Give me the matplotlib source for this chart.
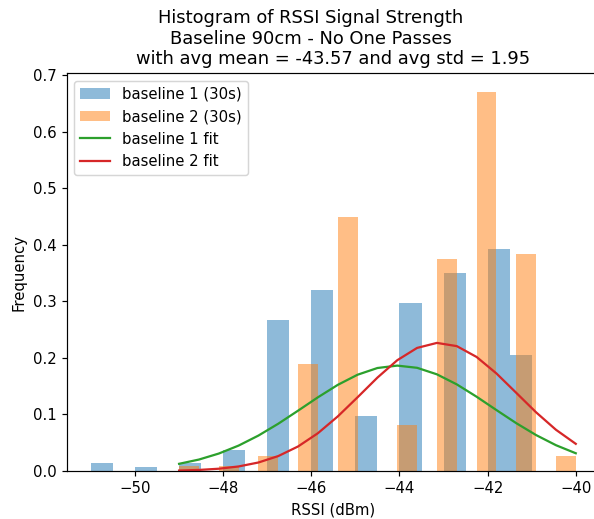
import numpy as np
import matplotlib
matplotlib.use("Agg")
import matplotlib.pyplot as plt

# RSSI values (dBm) and density heights
rssi1 = [-51, -50, -49, -48, -47, -46, -45, -44, -43, -42, -41]
dens1 = [0.0136, 0.0065, 0.0136, 0.0366, 0.267, 0.320, 0.0973, 0.297, 0.351, 0.392, 0.206]

rssi2 = [-49, -48, -47, -46, -45, -44, -43, -42, -41, -40]
dens2 = [0.009, 0.009, 0.0265, 0.189, 0.450, 0.082, 0.375, 0.670, 0.383, 0.0265]

# Normal fit parameters
mean1, std1 = -44.04, 2.14
mean2, std2 = -43.10, 1.76

title = ("Histogram of RSSI Signal Strength        \n"
         "Baseline 90cm - No One Passes        \n"
         "with avg mean = -43.57 and avg std = 1.95")


def pdf(x, m, s):
    return np.exp(-0.5 * ((x - m) / s) ** 2) / (s * np.sqrt(2 * np.pi))


DPI = 107.5
fig = plt.figure(figsize=(594 / DPI, 519 / DPI), dpi=DPI)
ax = fig.add_axes([0.1123, 0.0925, 0.8978, 0.7663])

ax.hist(rssi1, bins=20, weights=dens1, alpha=0.5, color="C0", label="baseline 1 (30s)")
_, bins2, _ = ax.hist(rssi2, bins=20, weights=dens2, alpha=0.5, color="C1", label="baseline 2 (30s)")

ax.plot(bins2, pdf(bins2, mean1, std1), color="C2", label="baseline 1 fit")
ax.plot(bins2, pdf(bins2, mean2, std2), color="C3", label="baseline 2 fit")

ax.set_title(title)
ax.set_xlabel("RSSI (dBm)")
ax.set_ylabel("Frequency")
ax.legend(loc="upper left")

fig.savefig("out.png", dpi=DPI)
